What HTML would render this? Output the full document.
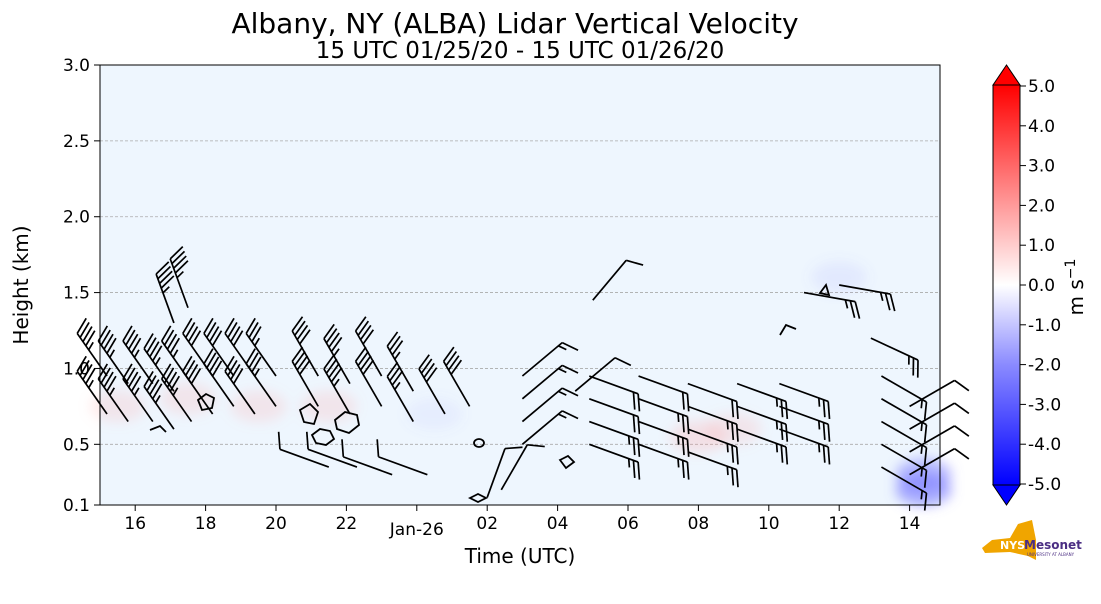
<!DOCTYPE html>
<html><head><meta charset="utf-8"><style>
body{margin:0;background:#fff;font-family:"DejaVu Sans","Liberation Sans",sans-serif;}
svg text{font-family:"DejaVu Sans","Liberation Sans",sans-serif;}
</style></head><body>
<svg id="chart" width="1101" height="600" viewBox="0 0 1101 600">
<defs>
<linearGradient id="cb" x1="0" y1="1" x2="0" y2="0">
<stop offset="0" stop-color="#0000ff"/><stop offset="0.3" stop-color="#8a8aff"/><stop offset="0.5" stop-color="#ffffff"/><stop offset="0.7" stop-color="#ff9a9a"/><stop offset="1" stop-color="#ff0000"/>
</linearGradient>
<filter id="blur"><feGaussianBlur stdDeviation="6"/></filter>
</defs>
<text x="515" y="33" font-size="28" text-anchor="middle">Albany, NY (ALBA) Lidar Vertical Velocity</text>
<text x="520" y="58" font-size="23" text-anchor="middle">15 UTC 01/25/20 - 15 UTC 01/26/20</text>
<rect x="100" y="65" width="840" height="440" fill="#eef6fe"/>
<g id="grid"></g>
<g id="patches" filter="url(#blur)"></g>
<g id="contours" fill="none" stroke="#000" stroke-width="1.8">
<ellipse cx="479" cy="443" rx="5" ry="4"/>
<path d="M312,435 l8,-6 l10,2 l4,8 l-8,6 l-10,-2 z"/>
<path d="M335,420 l10,-8 l12,3 l2,10 l-10,8 l-12,-4 z"/>
<path d="M198,400 l8,-6 l8,4 l-2,10 l-10,2 z"/>
<path d="M300,410 l10,-6 l8,8 l-4,12 l-10,-2 z"/>
<path d="M470,498 l8,-4 l8,4 l-8,4 z"/>
<path d="M560,460 l8,-4 l6,6 l-8,6 z"/>
<path d="M820,293 l6,-8 l3,10 z"/>
<path d="M780,335 l6,-10 l10,4"/>
<path d="M150,430 l10,-4 l6,6"/>
</g>
<g id="barbs"></g>
<rect x="100" y="65" width="840" height="440" fill="none" stroke="#000" stroke-width="1"/>
<g id="yticks"></g>
<g id="xticks"></g>
<text x="28" y="285" font-size="20" text-anchor="middle" transform="rotate(-90 28 285)">Height (km)</text>
<text x="520" y="563" font-size="20" text-anchor="middle">Time (UTC)</text>
<g>
<rect x="993" y="85" width="27" height="400" fill="url(#cb)"/>
<polygon points="993,85 1006.5,65 1020,85" fill="#ff0000" stroke="#000"/>
<polygon points="993,485 1006.5,505 1020,485" fill="#0000ff" stroke="#000"/>
<rect x="993" y="85" width="27" height="400" fill="none" stroke="#000"/>
<g id="cbticks"></g>
<text x="1083" y="287" font-size="20" text-anchor="middle" transform="rotate(-90 1083 287)">m s<tspan dy="-8" font-size="14">−1</tspan></text>
</g>
<g>
<polygon points="982,548 992,540 1010,538 1018,524 1032,520 1036,540 1036,560 1028,556 1010,552 985,553" fill="#f0a500"/>
<text x="1000" y="549" font-size="11" font-weight="bold" fill="#fff">NYS</text>
<text x="1024" y="549" font-size="12" font-weight="bold" fill="#4b2e83">Mesonet</text>
<text x="1027" y="556" font-size="4" fill="#4b2e83">UNIVERSITY AT ALBANY</text>
</g>
</svg>
<script>
const NS="http://www.w3.org/2000/svg";
const yTickVals=[0.1,0.5,1.0,1.5,2.0,2.5,3.0];
const xTickHours=[1,3,5,7,9,11,13,15,17,19,21,23];
const xTickLabels=["16","18","20","22","Jan-26","02","04","06","08","10","12","14"];
const cbTickVals=[5,4,3,2,1,0,-1,-2,-3,-4,-5];
// barb data: hours since 15 UTC, height km (station), direction deg (from), speed kt
const barbT=[0.2,0.2,0.8,0.8,1.5,1.5,2.1,2.1,2.6,2.6,3.2,3.2,3.8,3.8,4.4,4.4,5.0,5.0,2.1,2.5,
 6.2,6.2,7.1,7.1,8.0,8.0,8.9,8.9,9.8,10.5,
 6.5,7.3,8.3,9.3,
 11.0,11.4,12.0,12.0,12.0,12.0,13.5,14.0,
 13.9,13.9,13.9,13.9,15.3,15.3,15.3,15.3,16.7,16.7,16.7,16.7,18.1,18.1,18.1,19.3,19.3,19.3,
 20.0,21.0,21.9,
 22.2,22.2,22.2,22.2,22.2,23.0,23.0,23.0,23.0];
const barbH=[0.7,0.95,0.65,0.9,0.65,0.9,0.6,0.85,0.65,0.9,0.7,0.95,0.75,0.95,0.7,0.95,0.75,0.95,1.3,1.4,
 0.75,0.95,0.7,0.9,0.75,0.95,0.65,0.85,0.7,0.75,
 0.35,0.35,0.3,0.3,
 0.15,0.2,0.5,0.65,0.8,0.95,0.85,1.45,
 0.95,0.8,0.65,0.5,0.95,0.8,0.65,0.5,0.9,0.75,0.6,0.45,0.9,0.75,0.6,0.9,0.75,0.6,
 1.5,1.55,1.2,
 0.95,0.8,0.65,0.5,0.35,0.75,0.6,0.45,0.3];
const barbDir=[325,325,325,325,325,325,325,325,325,325,325,325,325,325,325,325,325,325,340,340,
 330,330,330,330,330,330,330,330,330,330,
 290,290,290,290,
 20,30,50,50,50,50,50,40,
 110,110,110,110,110,110,110,110,110,110,110,110,110,110,110,110,110,110,
 100,100,115,
 120,120,120,120,120,60,60,60,60];
const barbSpd=[45,45,45,45,45,45,45,45,45,45,40,40,40,40,40,40,35,35,45,45,
 40,40,45,45,40,40,35,35,40,40,
 10,10,10,10,
 10,10,15,15,15,15,10,10,
 20,20,25,25,20,25,25,25,20,25,25,25,25,25,25,25,25,25,
 25,25,25,
 15,15,15,15,15,10,10,10,10];
const patchT=[2.5,4.5,6.5,17,18,9.5,23.4,23.4,21,0.5];
const patchH=[0.8,0.75,0.75,0.55,0.6,0.7,0.3,0.2,1.6,0.75];
const patchV=[0.4,0.4,0.4,0.5,0.4,-0.3,-2.0,-2.5,-0.4,0.4];
const X=t=>100+t*35.2, Y=h=>505-(h-0.1)*(440/2.9);
function mk(tag,attrs,parent){const e=document.createElementNS(NS,tag);for(const k in attrs)e.setAttribute(k,attrs[k]);parent.appendChild(e);return e;}
const grid=document.getElementById('grid'),yt=document.getElementById('yticks'),xt=document.getElementById('xticks');
yTickVals.forEach(v=>{
 if(v>0.1&&v<3){const l=mk('line',{x1:100,x2:940,y1:Y(v),y2:Y(v),stroke:'#aaa','stroke-dasharray':'3,2','stroke-width':0.8},grid);
 
 }
 mk('line',{x1:94,x2:100,y1:Y(v),y2:Y(v),stroke:'#000'},yt);
 const t=mk('text',{x:90,y:Y(v)+6,'font-size':17,'text-anchor':'end'},yt);t.textContent=v.toFixed(1);
 
 
});
xTickHours.forEach((h,i)=>{
 mk('line',{x1:X(h),x2:X(h),y1:505,y2:511,stroke:'#000'},xt);
 const t=mk('text',{x:X(h),y:i==4?535:529,'font-size':17,'text-anchor':'middle'},xt);t.textContent=xTickLabels[i];
 
 
});
const cb=document.getElementById('cbticks');
cbTickVals.forEach(v=>{const y=285-v*39.8;
 mk('line',{x1:1020,x2:1026,y1:y,y2:y,stroke:'#000'},cb);
 const t=mk('text',{x:1028,y:y+6,'font-size':17},cb);t.textContent=v.toFixed(1);
 
 
});
const pg=document.getElementById('patches');
patchT.forEach((t,i)=>{const v=patchV[i];const c=v>0?`rgba(255,160,160,${Math.min(0.4,v*0.5)})`:`rgba(120,120,255,${Math.min(0.6,-v*0.25)})`;
 const e=mk('ellipse',{cx:X(t),cy:Y(patchH[i]),rx:28,ry:16,fill:c},pg);
 
 
});
const bg=document.getElementById('barbs');
barbT.forEach((t,i)=>{
 const x=X(t),y=Y(barbH[i]);const a=barbDir[i]*Math.PI/180;
 const L=52,dx=Math.sin(a),dy=-Math.cos(a);
 const g=mk('g',{stroke:'#000','stroke-width':1.7,fill:'none'},bg);
 
 
 const ex=x+dx*L,ey=y+dy*L;
 mk('line',{x1:x,y1:y,x2:ex,y2:ey},g);
 let s=barbSpd[i],k=0;
 const px=-dy,py=dx;
 while(s>=5){const full=s>=10;const len=full?16:8;
  const bx=ex-dx*k*5,by=ey-dy*k*5;
  mk('line',{x1:bx,y1:by,x2:bx+(px*len+dx*len*0.45),y2:by+(py*len+dy*len*0.45)},g);
  s-=full?10:5;k++;}
});
</script>
</body></html>
